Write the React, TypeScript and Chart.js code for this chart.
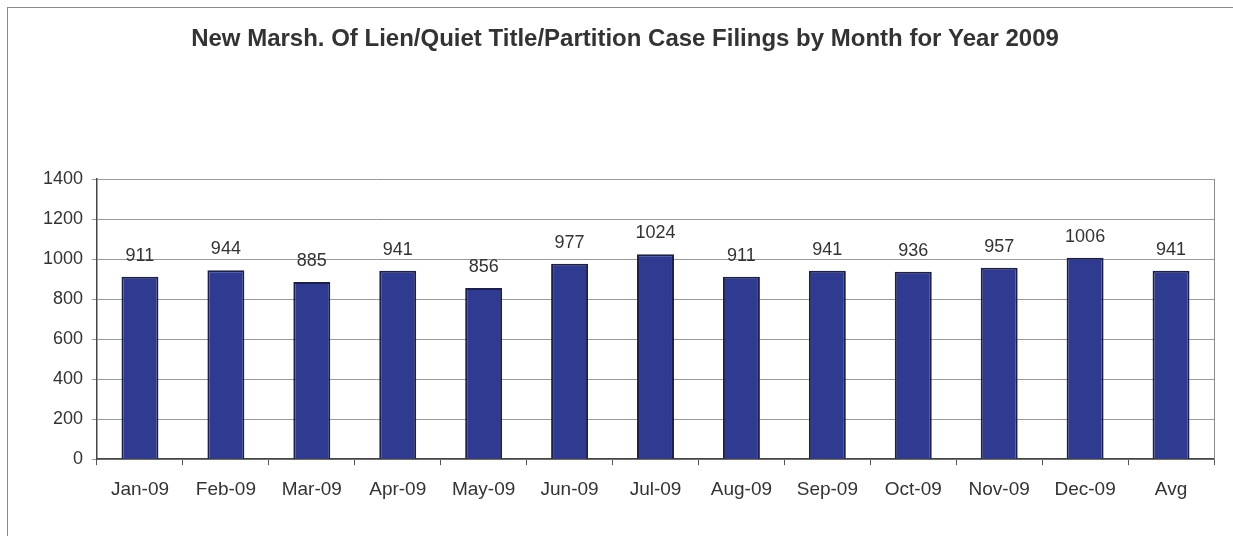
import React, { useEffect, useRef } from "react";
import { Chart, registerables } from "chart.js";

Chart.register(...registerables);

const titleText = "New Marsh. Of Lien/Quiet Title/Partition Case Filings by Month for Year 2009";
const categories = ["Jan-09", "Feb-09", "Mar-09", "Apr-09", "May-09", "Jun-09", "Jul-09", "Aug-09", "Sep-09", "Oct-09", "Nov-09", "Dec-09", "Avg"];
const filings = [911, 944, 885, 941, 856, 977, 1024, 911, 941, 936, 957, 1006, 941];
const yTicks = [0, 200, 400, 600, 800, 1000, 1200, 1400];

const FONT = "'Liberation Sans', Arial, Helvetica, sans-serif";

const plotFrame = {
  id: "plotFrame",
  beforeDatasetsDraw(chart: any) {
    const { ctx, chartArea } = chart;
    ctx.save();
    ctx.strokeStyle = "#8a8a8a";
    ctx.lineWidth = 1;
    ctx.beginPath();
    ctx.moveTo(chartArea.right + 0.5, chartArea.top);
    ctx.lineTo(chartArea.right + 0.5, chartArea.bottom);
    ctx.stroke();
    ctx.restore();
  },
};

const chartTitle = {
  id: "chartTitle",
  afterDraw(chart: any) {
    const { ctx } = chart;
    ctx.save();
    ctx.font = `bold 24px ${FONT}`;
    ctx.fillStyle = "#333333";
    ctx.textAlign = "center";
    ctx.textBaseline = "alphabetic";
    ctx.fillText(titleText, 617, 38);
    ctx.restore();
  },
};

const valueLabels = {
  id: "valueLabels",
  afterDatasetsDraw(chart: any) {
    const { ctx } = chart;
    const meta = chart.getDatasetMeta(0);
    ctx.save();
    ctx.font = `18px ${FONT}`;
    ctx.fillStyle = "#333333";
    ctx.textAlign = "center";
    ctx.textBaseline = "alphabetic";
    meta.data.forEach((bar: any, i: number) => {
      ctx.fillText(String(filings[i]), bar.x, bar.y - 16);
    });
    ctx.restore();
  },
};

export default function App() {
  const canvasRef = useRef<HTMLCanvasElement | null>(null);

  useEffect(() => {
    if (!canvasRef.current) return;
    const chart = new Chart(canvasRef.current, {
      type: "bar",
      data: {
        labels: categories,
        datasets: [
          {
            label: "Filings",
            data: filings,
            backgroundColor: "#2f3b90",
            borderColor: "#1c1f4a",
            borderWidth: 2,
            barPercentage: 0.43,
            categoryPercentage: 1,
          },
        ],
      },
      options: {
        animation: false,
        responsive: false,
        maintainAspectRatio: false,
        layout: { padding: { left: 0, right: 19, top: 171, bottom: 22 } },
        plugins: {
          legend: { display: false },
          tooltip: { enabled: false },
          title: { display: false },
        },
        scales: {
          x: {
            offset: true,
            grid: {
              offset: true,
              drawOnChartArea: false,
              drawTicks: true,
              tickLength: 6,
              color: "#555555",
            },
            border: { display: true, color: "#444444", width: 1.5 },
            ticks: {
              color: "#333333",
              font: { family: FONT, size: 19 },
              padding: 13,
              maxRotation: 0,
              autoSkip: false,
            },
          },
          y: {
            min: 0,
            max: 1400,
            afterFit(scale: any) {
              scale.width = 89;
            },
            afterBuildTicks(scale: any) {
              scale.ticks = yTicks.map((v) => ({ value: v }));
            },
            grid: {
              color: "#9a9a9a",
              lineWidth: 1,
              drawTicks: true,
              tickLength: 5,
            },
            border: { display: true, color: "#444444", width: 1.5 },
            ticks: {
              color: "#333333",
              font: { family: FONT, size: 18 },
              padding: 9,
              callback: (v: any) => String(v),
            },
          },
        },
      },
      plugins: [plotFrame, valueLabels, chartTitle],
    });
    return () => chart.destroy();
  }, []);

  return (
    <div
      style={{
        position: "absolute",
        left: 7,
        top: 7,
        width: 1226,
        height: 529,
        boxSizing: "border-box",
        borderLeft: "1px solid #8a8a8a",
        borderTop: "1px solid #8a8a8a",
        background: "#ffffff",
        overflow: "hidden",
      }}
    >
      <canvas ref={canvasRef} width={1225} height={528} style={{ display: "block" }} />
    </div>
  );
}
